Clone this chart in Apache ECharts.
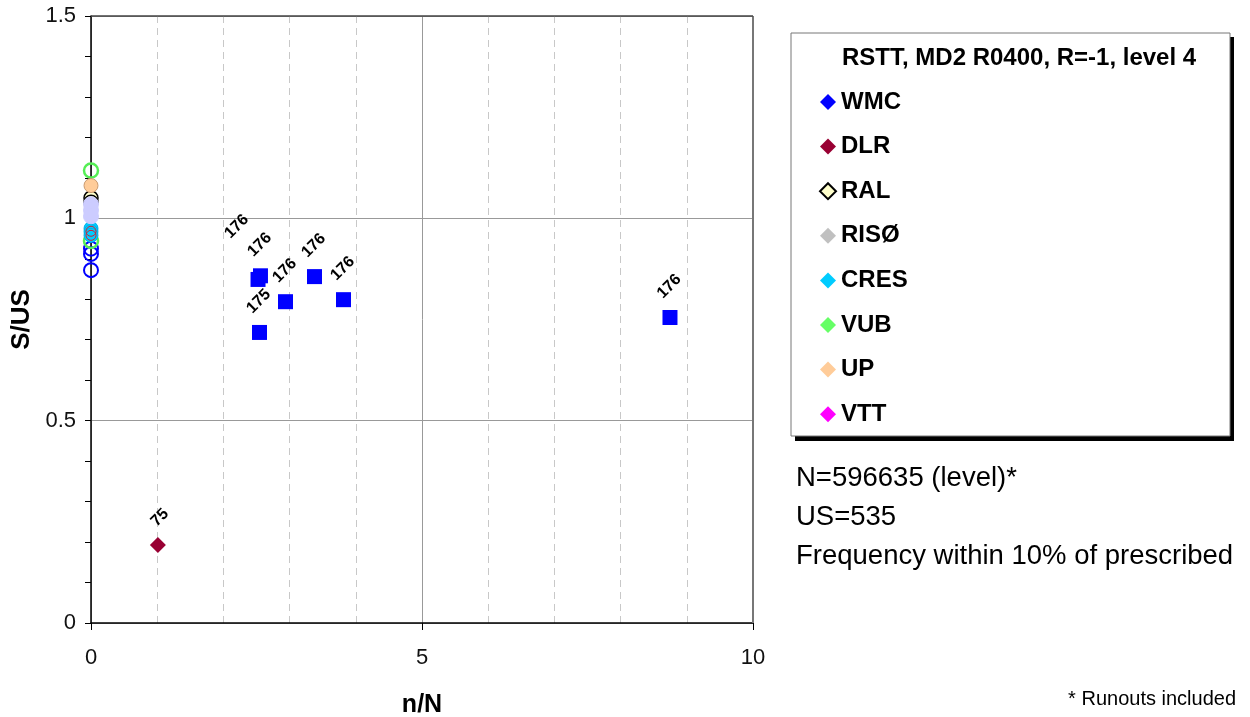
<!DOCTYPE html>
<html>
<head>
<meta charset="utf-8">
<script src="https://cdn.jsdelivr.net/npm/echarts@6/dist/echarts.min.js"></script>
<style>
  html, body { margin: 0; padding: 0; background: #fff; }
  #chart { width: 1250px; height: 717px; }
</style>
</head>
<body>
<div id="chart"></div>
<script>
/* global echarts */
// fatigue results (n/N, S/US) with cycle-frequency labels
const wmcX = [2.523, 2.56, 2.545, 2.938, 3.376, 3.814, 8.746];
const wmcY = [0.849, 0.858, 0.718, 0.794, 0.856, 0.799, 0.755];
const wmcLabels = ['176', '176', '175', '176', '176', '176', '176'];
const dlrX = [1.01];
const dlrY = [0.193];
const dlrLabels = ['75'];

// static tests plotted at n/N = 0
const wmcStatic = [0.872, 0.912, 0.925];
const vubStatic = [1.118, 0.944];
const dlrStatic = [0.968, 0.958];
const cresStatic = [0.975, 0.967, 0.958];
const ralStatic = [1.05, 1.04];
const upStatic = [1.081];
const extraStatic = [1.035, 1.02, 1.005];

const labs = ['WMC', 'DLR', 'RAL', 'RISØ', 'CRES', 'VUB', 'UP', 'VTT'];
const labColors = ['#0000ff', '#990033', '#ffffcc', '#c0c0c0', '#00ccff', '#66ff66', '#ffcc99', '#ff00ff'];

const font = 'Liberation Sans, Arial, sans-serif';
let chart = null;

function pairs(xs, ys) {
    return ys.map((y, i) => [xs[i], y]);
}

function zeros(ys) {
    return ys.map(y => [0, y]);
}

function create_graph() {
    chart = echarts.init(document.getElementById('chart'));

    const labelStyle = {
        show: true,
        position: 'top',
        distance: 13,
        rotate: 45,
        offset: [7, 0],
        fontFamily: font,
        fontWeight: 'bold',
        fontSize: 16,
        color: '#000'
    };

    const wmcData = pairs(wmcX, wmcY).map((p, i) => {
        const item = { value: p, label: { formatter: wmcLabels[i] } };
        // label dragged up for the overlapping point
        if (i === 0) item.label.offset = [8, -30];
        return item;
    });
    const dlrData = pairs(dlrX, dlrY).map((p, i) => ({ value: p, label: { formatter: dlrLabels[i] } }));

    // legend series (diamonds)
    const series = labs.map((name, i) => ({
        name: name,
        type: 'scatter',
        symbol: 'diamond',
        symbolSize: 16,
        z: 5,
        itemStyle: {
            opacity: 1,
            color: labColors[i],
            borderColor: name === 'RAL' ? '#000' : labColors[i],
            borderWidth: name === 'RAL' ? 1.5 : 0
        },
        data: []
    }));
    series[0].symbol = 'rect';
    series[0].symbolSize = 15;
    series[0].data = wmcData;
    series[0].label = labelStyle;
    series[1].data = dlrData;
    series[1].label = Object.assign({}, labelStyle, { offset: [6, 5] });

    const circle = (name, data, fill, stroke, width, size) => ({
        name: name,
        type: 'scatter',
        symbol: 'circle',
        symbolSize: size || 14,
        z: 4,
        itemStyle: { opacity: 1, color: fill, borderColor: stroke, borderWidth: width },
        data: zeros(data)
    });

    series.push(
        circle('WMC static', wmcStatic, 'rgba(0,0,0,0)', '#0000ff', 2),
        circle('VUB static', vubStatic, 'rgba(0,0,0,0)', '#55ee55', 2.5),
        circle('CRES static', cresStatic, '#00ccff', '#00b0e8', 1),
        circle('DLR static', dlrStatic, 'rgba(0,0,0,0)', '#cc2233', 1, 10),
        circle('RAL static', ralStatic, '#ffffcc', '#000', 1.5),
        circle('UP static', upStatic, '#ffcc99', '#c89a70', 1),
        circle('other static', extraStatic, '#ccccff', '#ccccff', 1, 15)
    );

    const option = {
        animation: false,
        textStyle: { fontFamily: font },
        grid: { left: 91, right: 497, top: 16, bottom: 94, show: false, containLabel: false, outerBoundsMode: 'none' },
        legend: {
            orient: 'vertical',
            left: 814,
            top: 85,
            itemGap: 20.6,
            itemWidth: 16,
            itemHeight: 16,
            textStyle: { fontFamily: font, fontWeight: 'bold', fontSize: 24, color: '#000' },
            data: labs.map(name => ({ name: name, icon: 'diamond' }))
        },
        xAxis: {
            type: 'value',
            name: 'n/N',
            nameLocation: 'middle',
            nameGap: 70,
            nameTextStyle: { fontFamily: font, fontWeight: 'bold', fontSize: 25, color: '#000' },
            min: 0,
            max: 10,
            interval: 5,
            axisLine: { onZero: false, lineStyle: { color: '#000', width: 1.5 } },
            axisTick: { show: true, length: 7, lineStyle: { color: '#000' } },
            axisLabel: { fontSize: 22, color: '#111', margin: 24 },
            splitLine: { show: true, lineStyle: { color: '#999', width: 1 } },
            minorTick: { show: false, splitNumber: 5 },
            minorSplitLine: { show: true, lineStyle: { color: '#c8c8c8', type: [7, 5], width: 1 } }
        },
        yAxis: {
            type: 'value',
            name: 'S/US',
            nameLocation: 'middle',
            nameGap: 52,
            nameTextStyle: { fontFamily: font, fontWeight: 'bold', fontSize: 26, color: '#000' },
            min: 0,
            max: 1.5,
            interval: 0.5,
            axisLine: { onZero: false, lineStyle: { color: '#000', width: 1.5 } },
            axisTick: { show: true, length: 6, lineStyle: { color: '#000' } },
            minorTick: { show: true, splitNumber: 5, length: 6, lineStyle: { color: '#000' } },
            axisLabel: { fontSize: 22, color: '#111', margin: 15 },
            splitLine: { show: true, lineStyle: { color: '#999', width: 1 } }
        },
        graphic: [
            // plot frame: top and right edges
            { type: 'line', shape: { x1: 753, y1: 16, x2: 753, y2: 623 }, style: { stroke: '#777', lineWidth: 2 }, z: 1 },
            { type: 'line', shape: { x1: 91, y1: 16, x2: 753, y2: 16 }, style: { stroke: '#444', lineWidth: 1.5 }, z: 1 },
            // legend box with shadow
            { type: 'rect', shape: { x: 795, y: 37, width: 439, height: 404 }, style: { fill: '#000' }, z: -2 },
            { type: 'rect', shape: { x: 791, y: 33, width: 439, height: 403 }, style: { fill: '#fff', stroke: '#777', lineWidth: 1 }, z: -1 },
            {
                type: 'text', x: 842, y: 58, z: 10,
                style: { text: 'RSTT, MD2 R0400, R=-1, level 4', font: 'bold 24px ' + font, fill: '#000', verticalAlign: 'middle' }
            },
            {
                type: 'text', x: 796, y: 478, z: 10,
                style: { text: 'N=596635 (level)*', font: '27.5px ' + font, fill: '#000', verticalAlign: 'middle' }
            },
            {
                type: 'text', x: 796, y: 517, z: 10,
                style: { text: 'US=535', font: '27.5px ' + font, fill: '#000', verticalAlign: 'middle' }
            },
            {
                type: 'text', x: 796, y: 556, z: 10,
                style: { text: 'Frequency within 10% of prescribed', font: '27.5px ' + font, fill: '#000', verticalAlign: 'middle' }
            },
            {
                type: 'text', x: 1236, y: 699, z: 10,
                style: { text: '* Runouts included', font: '20px ' + font, fill: '#000', align: 'right', verticalAlign: 'middle' }
            }
        ],
        series: series
    };
    chart.setOption(option);
}

create_graph();
</script>
</body>
</html>
